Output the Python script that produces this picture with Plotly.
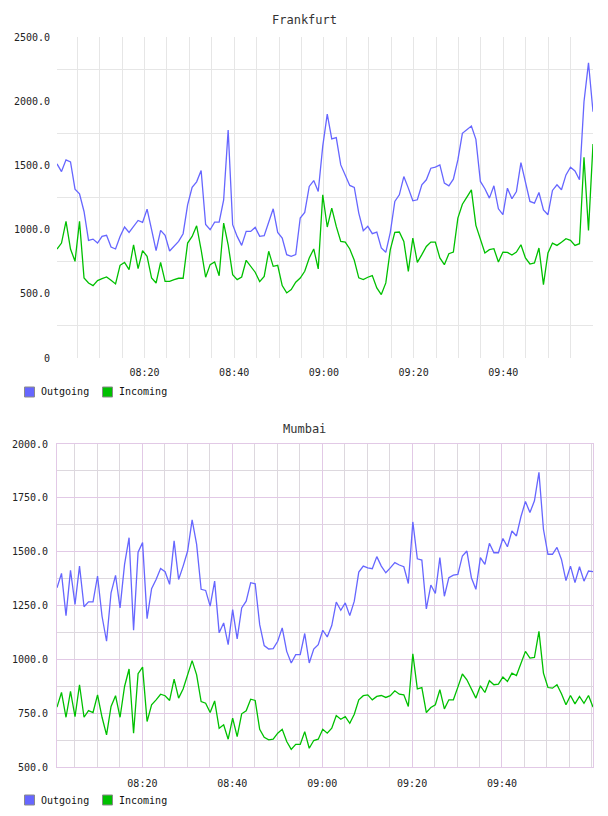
import plotly.graph_objects as go
import pandas as pd

# ---------------- data ----------------
frankfurt_start = "2024-01-01 08:00:30"
frankfurt_end = "2024-01-01 10:00:00"
mumbai_start = "2024-01-01 08:01:00"
mumbai_end = "2024-01-01 10:00:15"
n_points = 120

frankfurt_outgoing = [
    1512, 1452, 1543, 1527, 1315, 1279, 1141, 916, 926, 895,
    947, 955, 864, 849, 947, 1020, 978, 1020, 1071, 1056,
    1159, 999, 836, 994, 955, 833, 869, 908, 968, 1193,
    1330, 1372, 1460, 1040, 999, 1058, 1058, 1232, 1776, 1038,
    947, 877, 986, 986, 1017, 947, 952, 1058, 1162, 978,
    934, 805, 792, 805, 1090, 1134, 1336, 1382, 1297, 1650,
    1900, 1706, 1716, 1504, 1426, 1344, 1328, 1129, 991, 1025,
    968, 981, 857, 823, 979, 1219, 1271, 1413, 1323, 1224,
    1232, 1349, 1388, 1478, 1486, 1504, 1362, 1341, 1393, 1543,
    1750, 1776, 1807, 1703, 1375, 1318, 1245, 1341, 1162, 1116,
    1323, 1240, 1297, 1522, 1367, 1219, 1206, 1289, 1154, 1116,
    1305, 1349, 1310, 1426, 1486, 1457, 1388, 1996, 2299, 1918,
]
frankfurt_incoming = [
    849, 895, 1064, 849, 753, 1064, 623, 584, 564, 603,
    618, 631, 605, 577, 722, 745, 688, 882, 696, 836,
    792, 623, 584, 745, 597, 597, 610, 621, 621, 895,
    947, 1030, 843, 629, 727, 748, 641, 1051, 882, 649,
    610, 631, 761, 714, 668, 595, 636, 831, 714, 722,
    564, 507, 533, 590, 623, 675, 779, 849, 694, 1271,
    1020, 1167, 1025, 908, 903, 849, 761, 624, 611, 629,
    642, 546, 494, 585, 844, 978, 981, 908, 675, 934,
    745, 805, 869, 903, 903, 779, 727, 812, 825, 1089,
    1198, 1253, 1310, 1033, 921, 818, 844, 851, 748, 825,
    823, 802, 825, 882, 779, 732, 740, 857, 572, 818,
    895, 877, 901, 929, 916, 877, 890, 1564, 994, 1667,
]
mumbai_outgoing = [
    1332, 1399, 1203, 1413, 1255, 1433, 1244, 1267, 1267, 1387,
    1200, 1084, 1309, 1390, 1239, 1441, 1565, 1135, 1498, 1542,
    1189, 1328, 1371, 1422, 1407, 1348, 1550, 1371, 1433, 1503,
    1648, 1534, 1325, 1320, 1247, 1363, 1123, 1169, 1068, 1231,
    1095, 1239, 1270, 1356, 1351, 1161, 1064, 1048, 1050, 1084,
    1146, 1037, 983, 1022, 1022, 1120, 983, 1048, 1068, 1135,
    1104, 1157, 1266, 1228, 1262, 1203, 1270, 1405, 1433, 1425,
    1421, 1477, 1433, 1402, 1425, 1449, 1438, 1430, 1352, 1638,
    1467, 1461, 1234, 1345, 1306, 1472, 1293, 1379, 1391, 1394,
    1480, 1503, 1379, 1325, 1472, 1441, 1539, 1495, 1495, 1561,
    1523, 1596, 1573, 1662, 1733, 1682, 1736, 1868, 1604, 1488,
    1488, 1520, 1464, 1366, 1433, 1356, 1430, 1363, 1410, 1407,
]
mumbai_incoming = [
    778, 846, 731, 851, 734, 882, 731, 762, 753, 835,
    731, 649, 781, 831, 731, 874, 955, 657, 933, 964,
    711, 789, 812, 838, 831, 809, 908, 820, 862, 928,
    994, 928, 804, 796, 753, 807, 680, 696, 629, 727,
    641, 747, 761, 815, 809, 675, 638, 626, 629, 657,
    675, 618, 582, 605, 605, 664, 587, 623, 629, 675,
    657, 680, 739, 722, 734, 703, 745, 812, 831, 835,
    812, 828, 832, 823, 831, 854, 838, 835, 781, 1026,
    863, 869, 753, 776, 789, 859, 770, 812, 812, 871,
    932, 905, 862, 820, 877, 846, 901, 882, 885, 918,
    897, 936, 925, 978, 1037, 1006, 1009, 1130, 936, 869,
    866, 882, 840, 789, 832, 793, 828, 796, 832, 778,
]

titles = ["Frankfurt", "Mumbai"]
series_names = ["Outgoing", "Incoming"]
x_tickvals = ["2024-01-01 08:20", "2024-01-01 08:40", "2024-01-01 09:00",
              "2024-01-01 09:20", "2024-01-01 09:40"]
x_ticktext = ["08:20", "08:40", "09:00", "09:20", "09:40"]
frankfurt_tickvals = [0, 500, 1000, 1500, 2000, 2500]
frankfurt_ticktext = ["0", "500.0", "1000.0", "1500.0", "2000.0", "2500.0"]
frankfurt_gridvals = [250, 750, 1250, 1750, 2250]
mumbai_tickvals = [500, 750, 1000, 1250, 1500, 1750, 2000]
mumbai_ticktext = ["500.0", "750.0", "1000.0", "1250.0", "1500.0", "1750.0", "2000.0"]

frankfurt_times = pd.date_range(frankfurt_start, frankfurt_end, periods=n_points)
mumbai_times = pd.date_range(mumbai_start, mumbai_end, periods=n_points)

# ---------------- style ----------------
BLUE = "#6666ff"
GREEN = "#00c000"
FONT = "DejaVu Sans Mono"
W, H = 608, 816
ML, MR, MT, MB = 57, 15, 37, 49
PW = W - ML - MR
PH = H - MT - MB


def py(pix):
    """pixel y (from top of page) -> paper y"""
    return (H - MB - pix) / PH


def px(pix):
    """pixel x (from left of page) -> paper x"""
    return (pix - ML) / PW


fig = go.Figure()

for times, out_v, in_v, xa, ya in [
    (frankfurt_times, frankfurt_outgoing, frankfurt_incoming, "x", "y"),
    (mumbai_times, mumbai_outgoing, mumbai_incoming, "x2", "y2"),
]:
    fig.add_trace(go.Scatter(x=times, y=out_v, mode="lines", name=series_names[0],
                             line=dict(color=BLUE, width=1.3), xaxis=xa, yaxis=ya))
    fig.add_trace(go.Scatter(x=times, y=in_v, mode="lines", name=series_names[1],
                             line=dict(color=GREEN, width=1.3), xaxis=xa, yaxis=ya))

TICK_FONT = dict(family=FONT, size=10, color="#222222")
MIN5 = 5 * 60 * 1000
F_GRID = "#e6e6e6"
M_MAJOR = "#e2c9e6"
M_MINOR = "#ddd8de"

# legend swatches + labels (one legend under each chart)
shapes = []
annotations = []
for legend_y in (392, 800):
    for k, (name, col) in enumerate(zip(series_names, [BLUE, GREEN])):
        x0 = 24.5 + k * 78
        shapes.append(dict(type="rect", xref="paper", yref="paper",
                           x0=px(x0), x1=px(x0 + 10), y0=py(legend_y + 5), y1=py(legend_y - 5),
                           fillcolor=col, line=dict(color="#8a8a8a", width=1)))
        annotations.append(dict(text=name, x=px(x0 + 14.5), y=py(legend_y), xref="paper",
                                yref="paper", xanchor="left", yanchor="middle",
                                showarrow=False,
                                font=dict(family=FONT, size=10, color="#111111")))

for title, ty in zip(titles, (20, 429)):
    annotations.append(dict(text=title, x=px(304), y=py(ty), xref="paper", yref="paper",
                            xanchor="center", yanchor="middle", showarrow=False,
                            font=dict(family=FONT, size=12, color="#333333")))

fig.update_layout(
    width=W, height=H,
    margin=dict(l=ML, r=MR, t=MT, b=MB, pad=0, autoexpand=False),
    paper_bgcolor="white", plot_bgcolor="white",
    font=dict(family=FONT, size=10, color="#222222"),
    showlegend=False,
    xaxis=dict(
        domain=[0, 1], anchor="y", type="date", automargin=False,
        range=[frankfurt_times[0], frankfurt_times[-1]],
        tickvals=x_tickvals, ticktext=x_ticktext,
        showgrid=True, gridcolor=F_GRID, gridwidth=1,
        minor=dict(dtick=MIN5, tick0="2024-01-01 08:00", showgrid=True,
                   gridcolor=F_GRID, gridwidth=1),
        showline=False, zeroline=False, ticks="", tickfont=TICK_FONT,
        ticklabelstandoff=7,
    ),
    yaxis=dict(
        domain=[py(358), 1], anchor="x", automargin=False,
        range=[0, 2500], tickvals=frankfurt_tickvals, ticktext=frankfurt_ticktext,
        showgrid=False,
        minor=dict(tickmode="array", tickvals=frankfurt_gridvals, showgrid=True,
                   gridcolor=F_GRID, gridwidth=1),
        showline=False, zeroline=False, ticks="", tickfont=TICK_FONT,
        ticklabelstandoff=6,
    ),
    xaxis2=dict(
        domain=[0, 1], anchor="y2", type="date", automargin=False,
        range=[mumbai_times[0], mumbai_times[-1]],
        tickvals=x_tickvals, ticktext=x_ticktext,
        showgrid=True, gridcolor=M_MAJOR, gridwidth=1,
        minor=dict(dtick=MIN5, tick0="2024-01-01 08:00", showgrid=True,
                   gridcolor=M_MINOR, gridwidth=1),
        showline=True, linecolor=M_MAJOR, linewidth=1, mirror=True,
        zeroline=False, ticks="", tickfont=TICK_FONT, ticklabelstandoff=7,
    ),
    yaxis2=dict(
        domain=[0, py(444)], anchor="x2", automargin=False,
        range=[500, 2000], tickvals=mumbai_tickvals, ticktext=mumbai_ticktext,
        showgrid=True, gridcolor=M_MAJOR, gridwidth=1,
        minor=dict(dtick=125, tick0=500, showgrid=True, gridcolor=M_MINOR, gridwidth=1),
        showline=True, linecolor=M_MAJOR, linewidth=1, mirror=True,
        zeroline=False, ticks="", tickfont=TICK_FONT, ticklabelstandoff=6,
    ),
    shapes=shapes,
    annotations=annotations,
    hovermode=False,
)

fig.write_html("out.html")
